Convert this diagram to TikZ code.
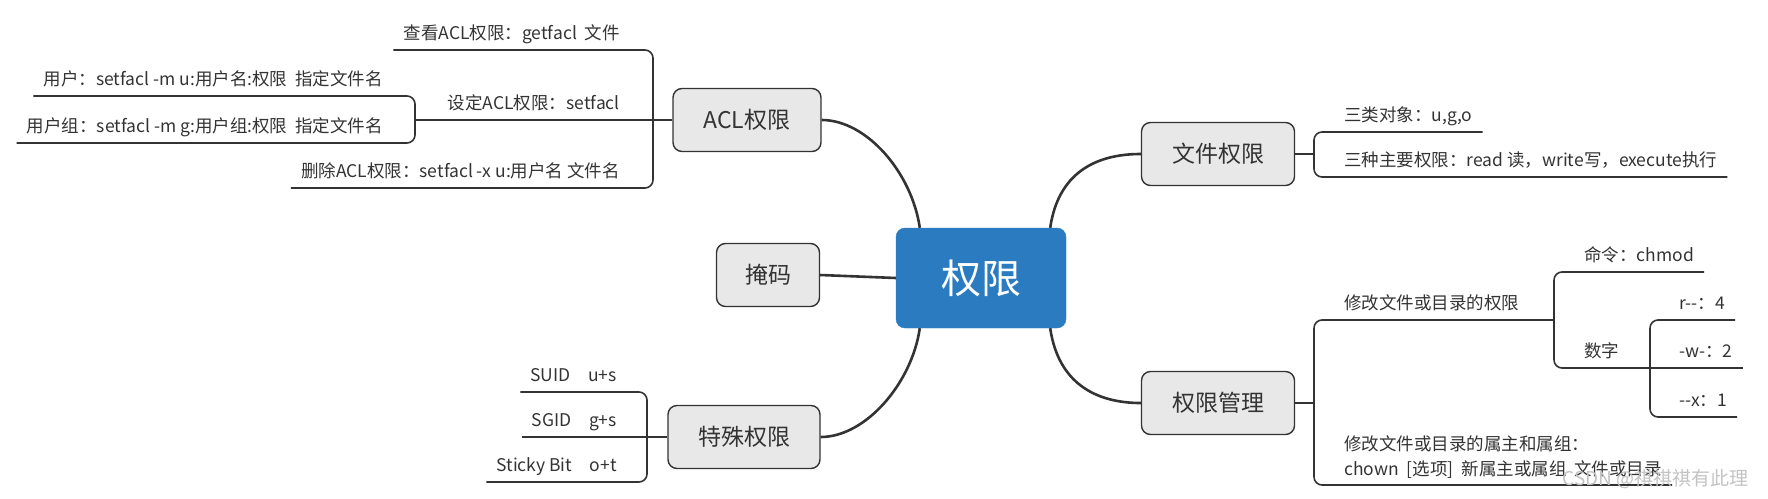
\documentclass[tikz,border=0pt]{standalone}
\usepackage{fontspec}
\setmainfont{Noto Sans CJK SC}
\usetikzlibrary{positioning}
\definecolor{rootblue}{RGB}{43,123,193}
\definecolor{topicgray}{RGB}{232,232,232}
\definecolor{inkgray}{RGB}{51,51,51}
\definecolor{markgray}{RGB}{195,195,195}

\begin{document}
\begin{tikzpicture}[
	x = 1pt, y = -1pt,
	every node/.style = {text = inkgray},
	root/.style = {draw = rootblue, fill = rootblue, rounded corners = 9pt, minimum width = 170pt, minimum height = 100pt, text = white, font = \fontsize{40}{48}\selectfont},
	topic/.style = {draw = inkgray, line width = 1.4pt, fill = topicgray, rounded corners = 9pt, minimum height = 63pt, font = \fontsize{23}{28}\selectfont},
	leaf/.style = {inner xsep = 10pt, inner ysep = 6pt, text height = 14pt, text depth = 4pt, font = \fontsize{17.5}{22}\selectfont},
	note/.style = {inner xsep = 10pt, inner ysep = 6pt, align = left, font = \fontsize{17.5}{25}\selectfont},
	trunk/.style = {draw = inkgray, line width = 2.6pt},
	twig/.style = {draw = inkgray, line width = 1.6pt, rounded corners = 8pt}
]
\useasboundingbox (0,0) rectangle (1768,498);

\node [root] (root) at (981,278) {权限};
\node [topic, minimum width = 148pt] (acl) at (747,120) {ACL权限};
\node [topic, minimum width = 103pt] (mask) at (768,275) {掩码};
\node [topic, minimum width = 152pt] (special) at (744,437) {特殊权限};
\node [topic, minimum width = 153pt] (filemode) at (1218,154) {文件权限};
\node [topic, minimum width = 153pt] (manage) at (1218,403) {权限管理};

\draw [trunk] ([xshift=24pt]root.north west) .. controls +(-8,-55) and +(45,0) .. (acl.east);
\draw [trunk] ([xshift=24pt]root.south west) .. controls +(-8,55) and +(45,0) .. (special.east);
\draw [trunk] ([xshift=-16pt]root.north east) .. controls +(8,-55) and +(-45,0) .. (filemode.west);
\draw [trunk] ([xshift=-16pt]root.south east) .. controls +(8,55) and +(-45,0) .. (manage.west);
\draw [trunk] (mask.east) -- (root.west);

\coordinate (aclbar) at (653,120);
\coordinate (setbar) at (415,120);
\node [leaf, anchor = south east] (getacl) at (630,50) {查看ACL权限：getfacl\ \ 文件};
\node [leaf, anchor = south east] (setacl) at (630,120) {设定ACL权限：setfacl};
\node [leaf, anchor = south east] (delacl) at (630,188) {删除ACL权限：setfacl -x u:用户名 文件名};
\node [leaf, anchor = south east] (setuser) at (393,96) {用户：setfacl -m u:用户名:权限\ \ 指定文件名};
\node [leaf, anchor = south east] (setgroup) at (393,143) {用户组：setfacl -m g:用户组:权限\ \ 指定文件名};
\draw [twig] (getacl.south west) -- (getacl.south -| aclbar) -- (delacl.south -| aclbar) -- (delacl.south west);
\draw [twig] (setbar) -- (acl.west);
\draw [twig] (setuser.south west) -- (setuser.south -| setbar) -- (setgroup.south -| setbar) -- (setgroup.south west);

\coordinate (specbar) at (647,437);
\node [leaf, anchor = south east] (suid) at (627,392) {SUID\quad u+s};
\node [leaf, anchor = south east] (sgid) at (627,437) {SGID\quad g+s};
\node [leaf, anchor = south east] (sticky) at (627,482) {Sticky Bit\quad o+t};
\draw [twig] (suid.south west) -- (suid.south -| specbar) -- (sticky.south -| specbar) -- (sticky.south west);
\draw [twig] (sgid.south west) -- (special.west);

\coordinate (filebar) at (1314,154);
\node [leaf, anchor = south west] (objects) at (1334,132) {三类对象：u,g,o};
\node [leaf, anchor = south west] (modes) at (1334,177) {三种主要权限：read 读，write写，execute执行};
\draw [twig] (objects.south east) -- (objects.south -| filebar) -- (modes.south -| filebar) -- (modes.south east);
\draw [twig] (filemode.east) -- (filebar);

\coordinate (managebar) at (1314,403);
\coordinate (chmodbar) at (1554,320);
\coordinate (digitbar) at (1650,368);
\node [leaf, anchor = south west] (chmodpart) at (1334,320) {修改文件或目录的权限};
\node [note, anchor = south west] (chown) at (1334,485) {修改文件或目录的属主和属组：\\chown\ \ [选项]\ \ 新属主或属组\ \ 文件或目录};
\draw [twig] (chmodbar) -- (chmodpart.south -| managebar) -- (chown.south -| managebar) -- (chown.south east);
\draw [twig] (manage.east) -- (managebar);
\node [leaf, anchor = south west] (cmd) at (1574,272) {命令：chmod};
\node [leaf, anchor = south west] (digits) at (1574,368) {数字};
\draw [twig] (cmd.south east) -- (cmd.south -| chmodbar) -- (digits.south -| chmodbar) -- (digitbar);
\node [leaf, anchor = south west] (read) at (1669,320) {r-{}-：4};
\node [leaf, anchor = south west] (write) at (1669,368) {-w-：2};
\node [leaf, anchor = south west] (exec) at (1669,417) {-{}-x：1};
\draw [twig] (read.south east) -- (read.south -| digitbar) -- (exec.south -| digitbar) -- (exec.south east);
\draw [twig] (digitbar) -- (write.south east);

\node [text = markgray, font = \fontsize{19}{23}\selectfont, anchor = east] (csdn) at (1752,479) {CSDN @祺祺祺有此理};
\end{tikzpicture}
\end{document}
